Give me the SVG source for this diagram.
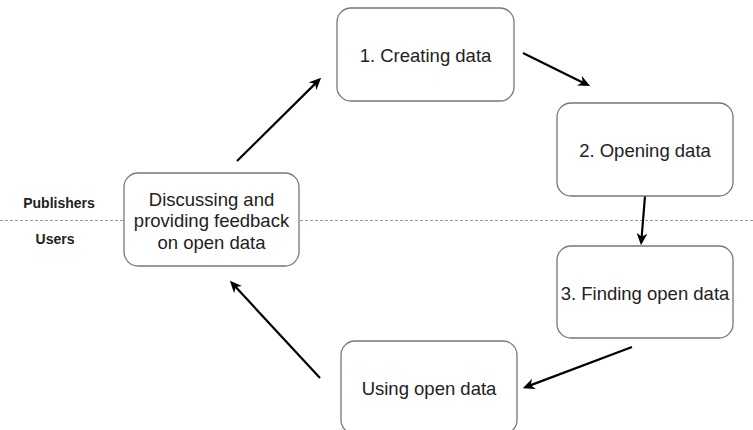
<svg xmlns="http://www.w3.org/2000/svg" width="753" height="430" viewBox="0 0 753 430">
<style>
.box{fill:#fff;stroke:#777;stroke-width:1.3}
.t{font-family:"Liberation Sans",Arial,sans-serif;font-size:18.5px;fill:#222;text-anchor:middle;dominant-baseline:central}
.lab{font-family:"Liberation Sans",Arial,sans-serif;font-size:14px;font-weight:bold;fill:#222;text-anchor:middle;dominant-baseline:central}
.arr{stroke:#000;stroke-width:2.2;fill:none;marker-end:url(#ah)}
</style>
<defs>
<marker id="ah" viewBox="0 0 10 10" markerWidth="12" markerHeight="12" refX="4" refY="5" orient="auto" markerUnits="userSpaceOnUse">
<path d="M0,0.5 L10,5 L0,9.5 L3,5 z" fill="#000"/>
</marker>
</defs>
<rect width="753" height="430" fill="#fff"/>
<g id="divider">
<line x1="0" y1="220.5" x2="753" y2="220.5" stroke="#999" stroke-width="1" stroke-dasharray="3 2"/>
<text class="lab" x="59" y="203">Publishers</text>
<text class="lab" x="55" y="239">Users</text>
</g>
<g id="connectors">
<line class="arr" x1="237" y1="161" x2="316" y2="82.9"/>
<line class="arr" x1="523" y1="53" x2="583.7" y2="82.9"/>
<line class="arr" x1="645" y1="196" x2="641.6" y2="238"/>
<line class="arr" x1="632" y1="347" x2="529.5" y2="385.6"/>
<line class="arr" x1="320" y1="378" x2="234.8" y2="286.1"/>
</g>
<g id="n1">
<rect class="box" x="337" y="8" width="177" height="93" rx="14"/>
<text class="t" x="425.5" y="55">1. Creating data</text>
</g>
<g id="n2">
<rect class="box" x="557" y="103" width="176" height="93" rx="14"/>
<text class="t" x="645" y="150">2. Opening data</text>
</g>
<g id="n3">
<rect class="box" x="557" y="246" width="176" height="92" rx="14"/>
<text class="t" x="645" y="293">3. Finding open data</text>
</g>
<g id="n4">
<rect class="box" x="341" y="341" width="176" height="93" rx="14"/>
<text class="t" x="429" y="388">Using open data</text>
</g>
<g id="n5">
<rect class="box" x="124" y="173" width="175" height="93" rx="14"/>
<text class="t" x="211.5" y="199">Discussing and</text>
<text class="t" x="211.5" y="220.5">providing feedback</text>
<text class="t" x="211.5" y="242">on open data</text>
</g>
</svg>
